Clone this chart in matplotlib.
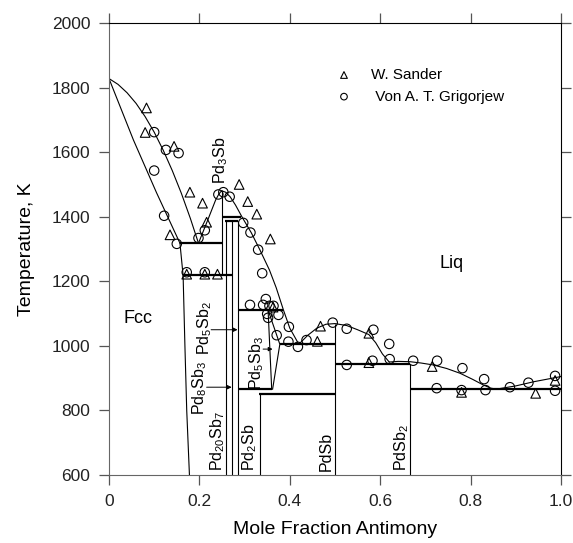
import matplotlib
matplotlib.use('Agg')
import matplotlib.pyplot as plt

plt.rcParams['font.family'] = ['Liberation Sans', 'DejaVu Sans']
plt.rcParams['mathtext.fontset'] = 'custom'
plt.rcParams['mathtext.rm'] = 'Liberation Sans'
plt.rcParams['mathtext.it'] = 'Liberation Sans:italic'
plt.rcParams['mathtext.bf'] = 'Liberation Sans:bold'

# measured points
sander_x = [0.083, 0.080, 0.144, 0.179, 0.207, 0.216, 0.135, 0.172, 0.212, 0.240,
            0.288, 0.307, 0.327, 0.357, 0.363, 0.461, 0.468, 0.575, 0.575, 0.715,
            0.780, 0.944, 0.987]
sander_t = [1737, 1661, 1618, 1476, 1442, 1383, 1344, 1222, 1222, 1222,
            1500, 1447, 1408, 1331, 1120, 1014, 1061, 1039, 948, 936,
            856, 853, 893]
grig_x = [0.100, 0.126, 0.154, 0.100, 0.122, 0.150, 0.198, 0.212, 0.172, 0.212,
          0.242, 0.253, 0.267, 0.297, 0.313, 0.330, 0.339, 0.312, 0.341, 0.347,
          0.355, 0.364, 0.350, 0.352, 0.375, 0.371, 0.398, 0.397, 0.418, 0.437,
          0.495, 0.526, 0.526, 0.585, 0.583, 0.620, 0.621, 0.673, 0.726, 0.725,
          0.780, 0.782, 0.830, 0.833, 0.887, 0.928, 0.987, 0.987]
grig_t = [1662, 1607, 1597, 1543, 1403, 1316, 1334, 1358, 1228, 1228,
          1469, 1476, 1462, 1381, 1351, 1298, 1225, 1127, 1127, 1145,
          1124, 1124, 1099, 1087, 1096, 1033, 1059, 1013, 997, 1018,
          1072, 1053, 941, 1050, 954, 1006, 959, 954, 954, 869,
          863, 931, 897, 863, 872, 886, 907, 861]

# calculated phase boundaries
fcc_liq_x = [0, 0.02, 0.04, 0.06, 0.08, 0.10, 0.12, 0.14, 0.16, 0.18, 0.198]
fcc_liq_t = [1828, 1810, 1784, 1751, 1710, 1662, 1606, 1543, 1473, 1395, 1318]
fcc_sol_x = [0, 0.054, 0.105, 0.157]
fcc_sol_t = [1828, 1638, 1475, 1318]
fcc_solvus_x = [0.157, 0.164, 0.168, 0.172, 0.178]
fcc_solvus_t = [1318, 1218, 1000, 800, 600]
pd3sb_left_x = [0.198, 0.22, 0.236, 0.243, 0.247, 0.25]
pd3sb_left_t = [1318, 1395, 1452, 1470, 1477, 1480]
pd3sb_right_x = [0.25, 0.258, 0.268, 0.28, 0.294, 0.315, 0.334, 0.355, 0.37, 0.386, 0.40, 0.42]
pd3sb_right_t = [1480, 1476, 1462, 1436, 1400, 1350, 1297, 1235, 1180, 1111, 1055, 1005]
pdsb_liq_x = [0.42, 0.44, 0.46, 0.48, 0.50, 0.526, 0.55, 0.575, 0.59, 0.605, 0.62]
pdsb_liq_t = [1005, 1033, 1055, 1067, 1069, 1063, 1050, 1035, 1010, 975, 950]
sb_liq_x = [0.62, 0.64, 0.666, 0.69, 0.717, 0.747, 0.777, 0.805, 0.828, 0.845, 0.857, 0.90, 0.94, 1.0]
sb_liq_t = [950, 952, 951, 947, 941, 930, 915, 896, 879, 869, 866, 876, 889, 905]
pd5sb3_left_x = [0.352, 0.360]
pd5sb3_left_t = [1111, 866]
pd5sb3_right_x = [0.352, 0.378, 0.362]
pd5sb3_right_t = [1111, 1005, 866]

# invariant lines
inv_t = [1318, 1218, 1400, 1386, 1111, 1005, 866, 851, 944, 866]
inv_x0 = [0.157, 0.164, 0.253, 0.256, 0.2857, 0.378, 0.2857, 0.333, 0.5, 0.6667]
inv_x1 = [0.25, 0.2727, 0.293, 0.2857, 0.386, 0.5, 0.360, 0.5, 0.6667, 1.0]

# compounds
comp_x = [0.25, 0.259, 0.2727, 0.2857, 0.3333, 0.5, 0.6667]
comp_top = [1480, 1386, 1386, 1386, 851, 1069, 944]
comp_bot = [1218, 600, 600, 600, 600, 600, 600]

fig = plt.figure(figsize=(5.73, 5.43), dpi=100)
ax = fig.add_axes([0.1902, 0.1252, 0.7888, 0.8324])

thin = dict(color='k', lw=0.8)
for xs, ts in [(fcc_liq_x, fcc_liq_t), (fcc_sol_x, fcc_sol_t), (fcc_solvus_x, fcc_solvus_t),
               (pd3sb_left_x, pd3sb_left_t), (pd3sb_right_x, pd3sb_right_t),
               (pdsb_liq_x, pdsb_liq_t), (sb_liq_x, sb_liq_t),
               (pd5sb3_left_x, pd5sb3_left_t), (pd5sb3_right_x, pd5sb3_right_t)]:
    ax.plot(xs, ts, **thin)

ax.vlines(comp_x, comp_bot, comp_top, colors='k', lw=0.8)
ax.hlines(inv_t, inv_x0, inv_x1, colors='k', lw=1.6)

ax.scatter(sander_x, sander_t, marker='^', s=48, facecolors='none', edgecolors='k',
           linewidths=0.8, label='W. Sander', zorder=3)
ax.scatter(grig_x, grig_t, marker='o', s=46, facecolors='none', edgecolors='k',
           linewidths=0.8, label=' Von A. T. Grigorjew', zorder=3)

# compound labels
lab = dict(rotation=90, fontsize=11.5, ha='center')
ax.text(0.248, 1500, r'Pd$_3$Sb', va='bottom', **lab)
ax.text(0.201, 870, r'Pd$_8$Sb$_3$', va='center', **lab)
ax.text(0.212, 1055, r'Pd$_5$Sb$_2$', va='center', **lab)
ax.text(0.240, 612, r'Pd$_{20}$Sb$_7$', va='bottom', **lab)
ax.text(0.311, 612, r'Pd$_2$Sb', va='bottom', **lab)
ax.text(0.327, 946, r'Pd$_5$Sb$_3$', va='center', **lab)
ax.text(0.480, 612, 'PdSb', va='bottom', **lab)
ax.text(0.647, 612, r'PdSb$_2$', va='bottom', **lab)
ax.text(0.758, 1256, 'Liq', fontsize=13, ha='center', va='center')
ax.text(0.065, 1086, 'Fcc', fontsize=13, ha='center', va='center')

arr = dict(arrowstyle='-|>', color='k', lw=0.7, mutation_scale=6, shrinkA=0, shrinkB=0)
ax.annotate('', xy=(0.2715, 872), xytext=(0.216, 872), arrowprops=arr)
ax.annotate('', xy=(0.2845, 1050), xytext=(0.226, 1050), arrowprops=arr)
ax.annotate('', xy=(0.362, 990), xytext=(0.341, 990), arrowprops=arr)

ax.set_xlim(0, 1)
ax.set_ylim(600, 2000)
ax.set_xticks([0, 0.2, 0.4, 0.6, 0.8, 1.0])
ax.set_xticklabels(['0', '0.2', '0.4', '0.6', '0.8', '1.0'])
ax.set_yticks(range(600, 2001, 200))
ax.tick_params(direction='out', length=7.5, width=0.9, labelsize=12.5, pad=6,
               top=True, right=True, colors='#555555', labelcolor='#222222')
for side in ['left', 'bottom']:
    ax.spines[side].set_color('#666666')
for side in ['top', 'right']:
    ax.spines[side].set_color('k')
ax.set_xlabel('Mole Fraction Antimony', fontsize=14, labelpad=9)
ax.set_ylabel('Temperature, K', fontsize=14, labelpad=12)

ax.legend(loc='upper left', bbox_to_anchor=(0.4726, 0.914), borderaxespad=0,
          frameon=False, fontsize=11, markerscale=0.7, scatterpoints=1)

fig.savefig('out.png', dpi=100)
